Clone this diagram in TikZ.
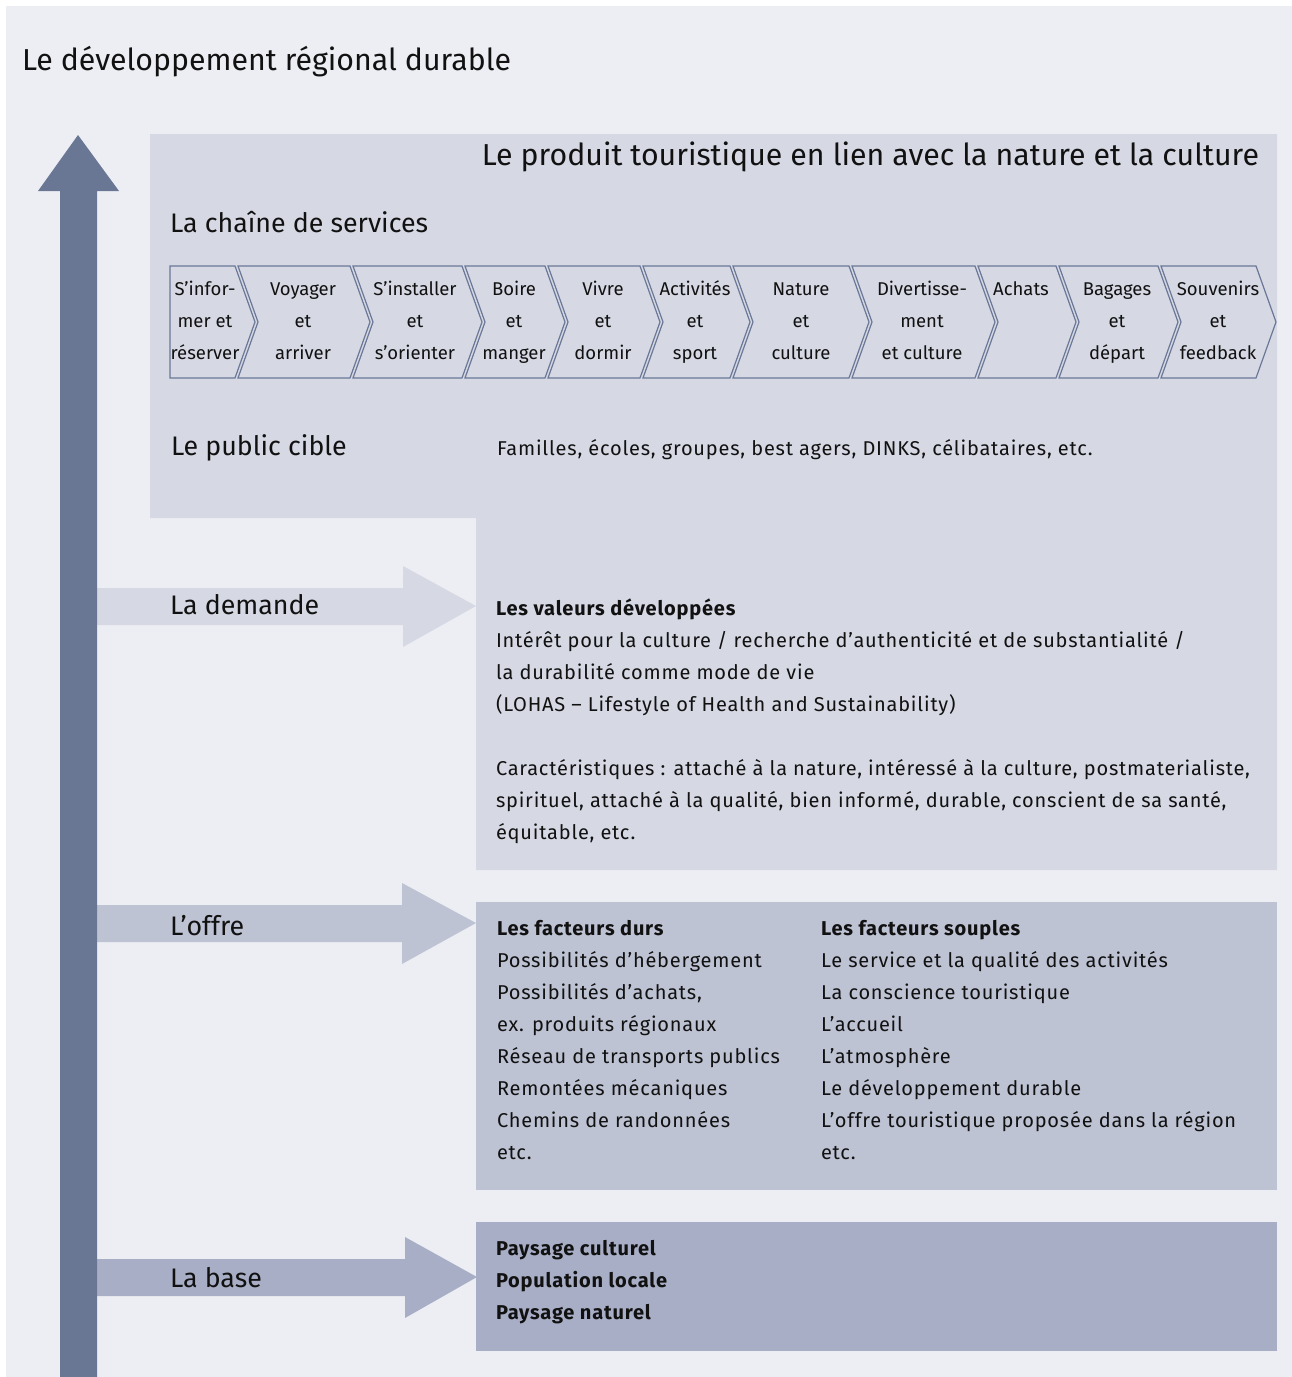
\documentclass[tikz,border=0pt]{standalone}
\usepackage{fontspec}
\setmainfont{Fira Sans}
\definecolor{bgc}{HTML}{EDEEF3}
\definecolor{panelA}{HTML}{D6D9E4}
\definecolor{panelB}{HTML}{BEC3D4}
\definecolor{panelC}{HTML}{A8AEC5}
\definecolor{arrowc}{HTML}{6A7794}
\definecolor{chevc}{HTML}{6A7796}
\definecolor{txt}{HTML}{111111}
\begin{document}
\begin{tikzpicture}[x=1pt,y=-1pt,
  every node/.style={inner sep=0pt, outer sep=0pt, text=txt},
  titletext/.style={font=\fontsize{30.3}{34}\selectfont},
  section/.style={font=\fontsize{26.8}{30}\selectfont, anchor=base west},
  bl/.style={font=\fontsize{20}{32}\selectfont\addfontfeature{LetterSpace=4}, anchor=base west},
  chevlabel/.style={font=\fontsize{18.5}{32}\selectfont, align=center},
  chev/.style={draw=chevc, line width=1.2pt, line join=miter}
]
\useasboundingbox (0,0) rectangle (1292,1377);
\fill[white] (0,0) rectangle (1292,1377);
\fill[bgc] (6,6) rectangle (1292,1377);

% panels
\fill[panelA] (150,134) -- (1277,134) -- (1277,870) -- (476,870) -- (476,518) -- (150,518) -- cycle;
\fill[panelB] (476,902) rectangle (1277,1190);
\fill[panelC] (476,1222) rectangle (1277,1351);

% horizontal arrows
\fill[panelA] (97,588) -- (403,588) -- (403,566) -- (476,606) -- (403,647) -- (403,625) -- (97,625) -- cycle;
\fill[panelB] (97,905) -- (402,905) -- (402,883) -- (476,923) -- (402,964) -- (402,942) -- (97,942) -- cycle;
\fill[panelC] (97,1259) -- (405,1259) -- (405,1237) -- (477,1277) -- (405,1318) -- (405,1296) -- (97,1296) -- cycle;

% vertical arrow
\fill[arrowc] (60,1377) -- (60,191) -- (38,191) -- (78,135) -- (119,191) -- (97,191) -- (97,1377) -- cycle;

% titles
\node[titletext, anchor=base west] (title) at (22,70) {Le développement régional durable};
\node[titletext, anchor=base east] (product) at (1259,165) {Le produit touristique en lien avec la nature et la culture};
\node[section] (chain) at (170,232) {La chaîne de services};
\node[section] (public) at (171,455) {Le public cible};
\node[section] (demande) at (170,614) {La demande};
\node[section] (offre) at (170,935) {L’offre};
\node[section] (base) at (170,1287) {La base};

% chevrons
\draw[chev] (170,266) -- (235,266) -- (255,322) -- (235,378) -- (170,378) -- cycle;
\foreach \tl/\tr in {238/350, 353/462, 465/545, 548/640, 643/730, 733/849, 852/975, 978/1056, 1059/1158, 1161/1256}
  \draw[chev] (\tl,266) -- (\tr,266) -- ({\tr+20},322) -- (\tr,378) -- (\tl,378) -- ({\tl+20},322) -- cycle;

\node[chevlabel] (c1) at (205,321) {\strut S’infor-\\\strut mer et\\\strut réserver};
\node[chevlabel] (c2) at (303,321) {\strut Voyager\\\strut et\\\strut arriver};
\node[chevlabel] (c3) at (415,321) {\strut S’installer\\\strut et\\\strut s’orienter};
\node[chevlabel] (c4) at (514,321) {\strut Boire\\\strut et\\\strut manger};
\node[chevlabel] (c5) at (603,321) {\strut Vivre\\\strut et\\\strut dormir};
\node[chevlabel] (c6) at (695,321) {\strut Activités\\\strut et\\\strut sport};
\node[chevlabel] (c7) at (801,321) {\strut Nature\\\strut et\\\strut culture};
\node[chevlabel] (c8) at (922,321) {\strut Divertisse-\\\strut ment\\\strut et culture};
\node[chevlabel] (c9) at (1021,289) {\strut Achats};
\node[chevlabel] (c10) at (1117,321) {\strut Bagages\\\strut et\\\strut départ};
\node[chevlabel] (c11) at (1218,321) {\strut Souvenirs\\\strut et\\\strut feedback};

% public cible
\node[bl] (pt) at (497,455) {Familles, écoles, groupes, best agers, DINKS, célibataires, etc.};

% demande block
\node[bl] (d0) at (496,615) {\bfseries Les valeurs développées};
\node[bl] (d1) at (496,647) {Intérêt pour la culture / recherche d’authenticité et de substantialité /};
\node[bl] (d2) at (496,679) {la durabilité comme mode de vie};
\node[bl] (d3) at (496,711) {(LOHAS – Lifestyle of Health and Sustainability)};
\node[bl] (d5) at (496,775) {Caractéristiques : attaché à la nature, intéressé à la culture, postmaterialiste,};
\node[bl] (d6) at (496,807) {spirituel, attaché à la qualité, bien informé, durable, conscient de sa santé,};
\node[bl] (d7) at (496,839) {équitable, etc.};

% offre block
\node[bl] (o0) at (497,935) {\bfseries Les facteurs durs};
\node[bl] (o1) at (497,967) {Possibilités d’hébergement};
\node[bl] (o2) at (497,999) {Possibilités d’achats,};
\node[bl] (o3) at (497,1031) {ex. produits régionaux};
\node[bl] (o4) at (497,1063) {Réseau de transports publics};
\node[bl] (o5) at (497,1095) {Remontées mécaniques};
\node[bl] (o6) at (497,1127) {Chemins de randonnées};
\node[bl] (o7) at (497,1159) {etc.};
\node[bl] (s0) at (821,935) {\bfseries Les facteurs souples};
\node[bl] (s1) at (821,967) {Le service et la qualité des activités};
\node[bl] (s2) at (821,999) {La conscience touristique};
\node[bl] (s3) at (821,1031) {L’accueil};
\node[bl] (s4) at (821,1063) {L’atmosphère};
\node[bl] (s5) at (821,1095) {Le développement durable};
\node[bl] (s6) at (821,1127) {L’offre touristique proposée dans la région};
\node[bl] (s7) at (821,1159) {etc.};

% base block
\node[bl] (b0) at (496,1255) {\bfseries Paysage culturel};
\node[bl] (b1) at (496,1287) {\bfseries Population locale};
\node[bl] (b2) at (496,1319) {\bfseries Paysage naturel};
\end{tikzpicture}
\end{document}
